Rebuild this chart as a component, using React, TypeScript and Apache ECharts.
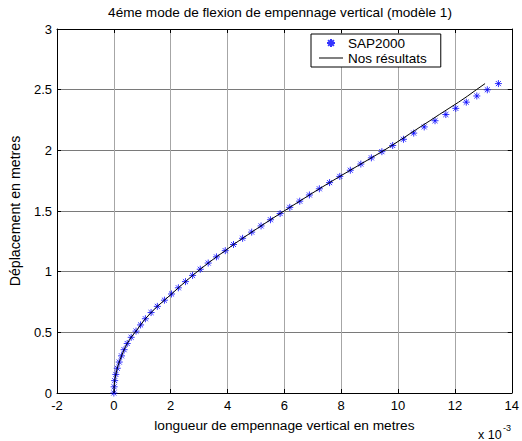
import React, { useEffect, useRef } from "react";
import * as echarts from "echarts";

// Height along the fin (m) for each sample
const yValues = [
  0, 0.051, 0.102, 0.153, 0.204, 0.255, 0.306, 0.357, 0.408, 0.459,
  0.51, 0.561, 0.612, 0.663, 0.714, 0.765, 0.816, 0.867, 0.918, 0.969,
  1.02, 1.071, 1.122, 1.173, 1.224, 1.275, 1.326, 1.377, 1.428, 1.479,
  1.53, 1.581, 1.632, 1.683, 1.734, 1.785, 1.836, 1.887, 1.938, 1.989,
  2.04, 2.091, 2.142, 2.193, 2.244, 2.295, 2.346, 2.397, 2.448, 2.499,
  2.55,
];
// SAP2000 displacement (x 10^-3)
const sapX = [
  0, 0.01, 0.03, 0.07, 0.12, 0.19, 0.27, 0.36, 0.47, 0.61,
  0.78, 0.94, 1.11, 1.31, 1.53, 1.78, 2.03, 2.27, 2.52, 2.77,
  3.04, 3.32, 3.61, 3.92, 4.21, 4.53, 4.85, 5.18, 5.51, 5.85,
  6.19, 6.54, 6.88, 7.23, 7.59, 7.95, 8.32, 8.69, 9.06, 9.43,
  9.81, 10.19, 10.55, 10.92, 11.3, 11.68, 12.03, 12.4, 12.77, 13.14,
  13.53,
];
// Nos résultats displacement (x 10^-3)
const oursX = [
  0, 0.01, 0.03, 0.07, 0.12, 0.19, 0.27, 0.36, 0.47, 0.61,
  0.78, 0.94, 1.11, 1.31, 1.53, 1.78, 2.03, 2.27, 2.52, 2.77,
  3.04, 3.32, 3.61, 3.92, 4.21, 4.53, 4.85, 5.18, 5.51, 5.85,
  6.19, 6.54, 6.88, 7.23, 7.59, 7.95, 8.32, 8.69, 9.06, 9.43,
  9.78, 10.12, 10.45, 10.78, 11.12, 11.45, 11.79, 12.13, 12.45, 12.75,
  13.06,
];

const seriesNames = ["SAP2000", "Nos résultats"];
const titleText = "4éme mode de flexion de empennage vertical (modèle 1)";
const xName = "longueur de empennage vertical en metres";
const yName = "Déplacement en metres";

const FONT = "Liberation Sans, Arial, sans-serif";
const STAR = "path://M0,-1L0,1M-1,0L1,0M-0.72,-0.72L0.72,0.72M-0.72,0.72L0.72,-0.72";
const DASH = "path://M0,0L24,0L24,1L0,1Z";

export default function App() {
  const ref = useRef<HTMLDivElement>(null);
  useEffect(() => {
    if (!ref.current) return;
    const chart = echarts.init(ref.current, undefined, { renderer: "svg" });
    const sapData = yValues.map((y, i) => [sapX[i], y]);
    const oursData = yValues.map((y, i) => [oursX[i], y]);
    const txt = { color: "#000", fontFamily: FONT, fontSize: 13 };
    chart.setOption({
      animation: false,
      backgroundColor: "#fff",
      textStyle: { fontFamily: FONT },
      grid: { left: 50, right: 9, top: 29, bottom: 48 },
      legend: {
        orient: "vertical",
        left: 311,
        top: 34,
        padding: [2, 14, 2, 8],
        itemGap: 1,
        itemWidth: 24,
        itemHeight: 8,
        itemTextGap: 8,
        backgroundColor: "#fff",
        borderColor: "#000",
        borderWidth: 1,
        textStyle: { ...txt, fontSize: 13.5 },
        data: [
          { name: seriesNames[0], icon: STAR },
          { name: seriesNames[1], icon: DASH },
        ],
      },
      graphic: [
        {
          type: "text",
          x: 280,
          y: 12,
          style: { text: titleText, ...txt, fontSize: 13.6, align: "center", verticalAlign: "middle", fill: "#000" },
        },
        {
          type: "text",
          x: 478,
          y: 435,
          style: { text: "x 10", ...txt, fontSize: 12.5, verticalAlign: "middle", fill: "#000" },
        },
        {
          type: "text",
          x: 503,
          y: 428,
          style: { text: "-3", ...txt, fontSize: 9, verticalAlign: "middle", fill: "#000" },
        },
      ],
      xAxis: [
        {
          type: "value",
          min: -2,
          max: 14,
          interval: 2,
          name: xName,
          nameLocation: "middle",
          nameGap: 25,
          nameTextStyle: { ...txt, fontSize: 13.7 },
          axisLine: { show: true, onZero: false, lineStyle: { color: "#000", width: 1 } },
          axisTick: { show: true, inside: true, length: 4, lineStyle: { color: "#000" } },
          axisLabel: { ...txt, margin: 6 },
          splitLine: { show: true, lineStyle: { color: "#a6a6a6", width: 1 } },
        },
        {
          type: "value",
          position: "top",
          min: -2,
          max: 14,
          interval: 2,
          axisLine: { show: true, onZero: false, lineStyle: { color: "#000", width: 1 } },
          axisTick: { show: true, inside: true, length: 4, lineStyle: { color: "#000" } },
          axisLabel: { show: false },
          splitLine: { show: false },
        },
      ],
      yAxis: [
        {
          type: "value",
          min: 0,
          max: 3,
          interval: 0.5,
          name: yName,
          nameLocation: "middle",
          nameGap: 35,
          nameTextStyle: { ...txt, fontSize: 14.2 },
          axisLine: { show: true, onZero: false, lineStyle: { color: "#000", width: 1 } },
          axisTick: { show: true, inside: true, length: 4, lineStyle: { color: "#000" } },
          axisLabel: { ...txt, margin: 5 },
          splitLine: { show: true, lineStyle: { color: "#7a7a7a", width: 1 } },
        },
        {
          type: "value",
          position: "right",
          min: 0,
          max: 3,
          interval: 0.5,
          axisLine: { show: true, onZero: false, lineStyle: { color: "#000", width: 1 } },
          axisTick: { show: true, inside: true, length: 4, lineStyle: { color: "#000" } },
          axisLabel: { show: false },
          splitLine: { show: false },
        },
      ],
      series: [
        {
          name: seriesNames[0],
          type: "scatter",
          data: sapData,
          symbol: STAR,
          symbolSize: 7,
          itemStyle: { color: "#0000ff", borderColor: "#0000ff", borderWidth: 1 },
          z: 2,
        },
        {
          name: seriesNames[1],
          type: "line",
          data: oursData,
          symbol: "none",
          lineStyle: { color: "#000", width: 1 },
          itemStyle: { color: "#000" },
          z: 3,
        },
      ],
    });
    return () => chart.dispose();
  }, []);
  return (
    <div
      ref={ref}
      style={{ position: "fixed", left: 0, top: 0, width: 522, height: 441, background: "#fff" }}
    />
  );
}
